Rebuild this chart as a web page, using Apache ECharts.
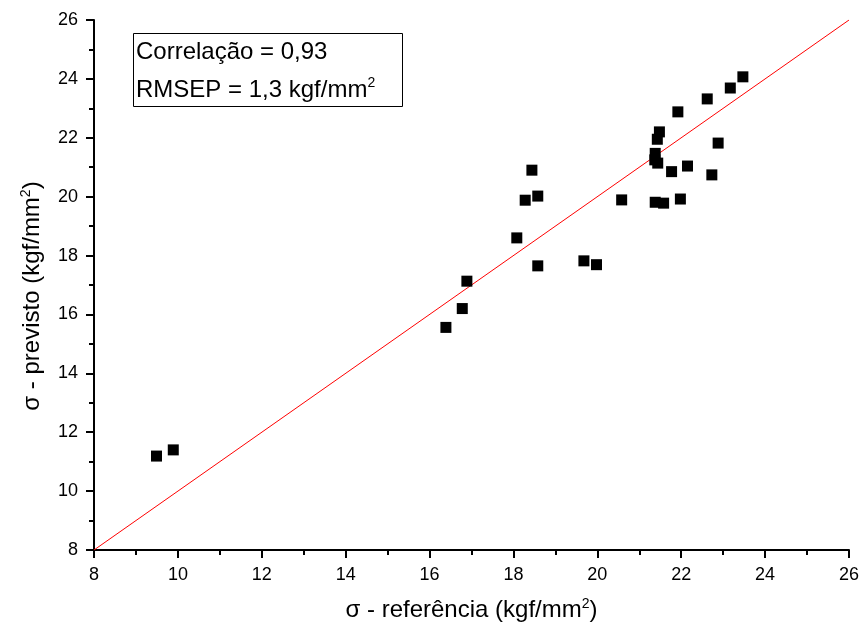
<!DOCTYPE html>
<html>
<head>
<meta charset="utf-8">
<script src="https://cdn.jsdelivr.net/npm/echarts@6/dist/echarts.min.js"></script>
<style>
  html, body { margin: 0; padding: 0; background: #fff; }
  #chart { width: 863px; height: 635px; }
</style>
</head>
<body>
<div id="chart"></div>
<script>
// Reference (measured) vs predicted stress, kgf/mm²
const sigmaReferencia = [
  9.49, 9.89, 16.39, 16.78, 16.89, 18.08, 18.28, 18.44, 18.58, 18.58,
  19.68, 19.98, 20.58, 21.48, 21.43, 21.38, 21.37, 21.44, 21.77, 22.15,
  21.38, 21.58, 21.98, 21.92, 22.62, 23.17, 23.47, 22.88, 22.73
];
const sigmaPrevisto = [
  11.19, 11.40, 15.56, 16.20, 17.13, 18.60, 19.88, 20.90, 20.02, 17.65,
  17.82, 17.69, 19.89, 22.20, 21.95, 21.47, 21.25, 21.14, 20.85, 21.04,
  19.81, 19.78, 19.92, 22.88, 23.32, 23.69, 24.07, 21.82, 20.74
];
// Ideal agreement line y = x across the axis range
const idealLine = [[8, 8], [26, 26]];
const axisMin = 8, axisMax = 26, axisStep = 2;
const statsLines = ['Correlação = 0,93', 'RMSEP = 1,3 kgf/mm'];

const FONT = '"Liberation Sans", Arial, Helvetica, sans-serif';

const points = sigmaReferencia.map((x, i) => [x, sigmaPrevisto[i]]);

function axisCommon() {
  return {
    type: 'value',
    min: axisMin,
    max: axisMax,
    interval: axisStep,
    nameLocation: 'middle',
    axisLine: { show: true, onZero: false, lineStyle: { color: '#000', width: 2 } },
    axisTick: { show: true, inside: false, length: 8, lineStyle: { color: '#000', width: 2 } },
    minorTick: { show: true, splitNumber: 2, length: 5, lineStyle: { color: '#000', width: 2 } },
    splitLine: { show: false },
    axisLabel: { color: '#000', fontSize: 18, fontFamily: FONT, margin: 16 }
  };
}

const nameRich = {
  n: { fontSize: 24, fontFamily: FONT, color: '#000', lineHeight: 30 },
  s: { fontSize: 14, fontFamily: FONT, color: '#000', lineHeight: 30, verticalAlign: 'top', padding: [2, 0, 0, 0] }
};

const chart = echarts.init(document.getElementById('chart'), null, { renderer: 'canvas' });

const xAxis = axisCommon();
xAxis.name = '{n|σ - referência (kgf/mm}{s|2}{n|)}';
xAxis.nameGap = 45;
xAxis.nameTextStyle = { rich: nameRich };

const yAxis = axisCommon();
yAxis.name = '{n|σ - previsto (kgf/mm}{s|2}{n|)}';
yAxis.nameGap = 47;
yAxis.nameRotate = 90;
yAxis.nameTextStyle = { rich: nameRich, padding: [0, 22, 0, 0] };

chart.setOption({
  backgroundColor: '#fff',
  animation: false,
  grid: { left: 94, right: 14, top: 20, bottom: 85, containLabel: false },
  xAxis: xAxis,
  yAxis: yAxis,
  graphic: [
    {
      type: 'rect',
      left: 133, top: 33,
      shape: { width: 269, height: 73 },
      style: { fill: '#fff', stroke: '#000', lineWidth: 1 },
      z: 10
    },
    {
      type: 'text',
      left: 136, top: 40,
      z: 11,
      style: {
        text: '{a|' + statsLines[0] + '}\n{a|' + statsLines[1] + '}{s|2}',
        rich: {
          a: { fontSize: 24, fontFamily: FONT, color: '#000', lineHeight: 38 },
          s: { fontSize: 14, fontFamily: FONT, color: '#000', lineHeight: 38, verticalAlign: 'top', padding: [5, 0, 0, 0] }
        }
      }
    }
  ],
  series: [
    {
      type: 'line',
      data: idealLine,
      showSymbol: false,
      symbol: 'none',
      lineStyle: { color: '#ff0000', width: 1 },
      silent: true,
      z: 2
    },
    {
      type: 'scatter',
      data: points,
      symbol: 'rect',
      symbolSize: 11,
      itemStyle: { color: '#000', opacity: 1 },
      z: 3
    }
  ]
});
</script>
</body>
</html>
